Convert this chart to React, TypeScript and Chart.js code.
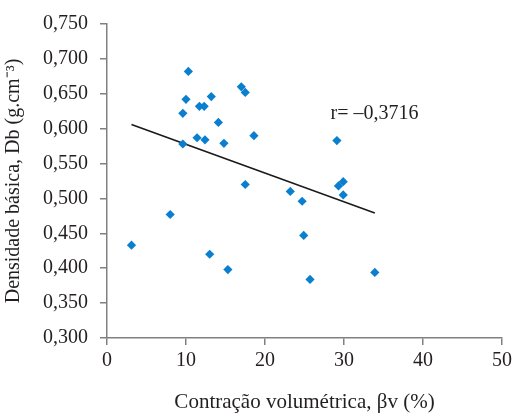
import React, { useEffect, useRef } from "react";
import { Chart, registerables } from "chart.js";

Chart.register(...registerables);

const contraction = [10.3, 17.0, 17.5, 13.2, 10.0, 11.7, 12.3, 9.6, 14.1, 18.6, 11.4, 12.4, 9.6, 14.8, 29.1, 29.9, 17.5, 29.3, 23.2, 29.9, 24.7, 8.0, 24.9, 3.1, 13.0, 15.3, 33.9, 25.7];
const density = [0.682, 0.660, 0.652, 0.646, 0.642, 0.632, 0.632, 0.622, 0.609, 0.590, 0.587, 0.584, 0.578, 0.579, 0.583, 0.524, 0.520, 0.518, 0.510, 0.505, 0.496, 0.477, 0.447, 0.433, 0.420, 0.398, 0.394, 0.384];
const trendX = [3.1, 33.9];
const trendY = [0.606, 0.479];
const rText = "r= \u20130,3716";
const rPos = [28.3, 0.622];
const xTitle = "Contração volumétrica, βv (%)";
const yTitle = "Densidade básica, Db (g.cm⁻³)";

const FONT = "'Liberation Serif', 'Times New Roman', serif";
const TEXT = "#231f20";
const AXIS = "#808080";

const annotationPlugin = {
  id: "rAnnotation",
  afterDatasetsDraw(chart: any) {
    const { ctx, scales } = chart;
    const x = scales.x.getPixelForValue(rPos[0]);
    const y = scales.y.getPixelForValue(rPos[1]);
    ctx.save();
    ctx.font = `20px ${FONT}`;
    ctx.fillStyle = TEXT;
    ctx.textAlign = "left";
    ctx.textBaseline = "middle";
    ctx.fillText(rText, x, y);
    ctx.restore();
  },
};

export default function App() {
  const ref = useRef<HTMLCanvasElement>(null);
  useEffect(() => {
    if (!ref.current) return;
    const chart = new Chart(ref.current, {
      type: "scatter",
      data: {
        datasets: [
          {
            label: "points",
            data: contraction.map((x, i) => ({ x, y: density[i] })),
            pointStyle: "rectRot",
            pointRadius: 4.6,
            backgroundColor: "#0a7fcf",
            borderColor: "#0a7fcf",
            borderWidth: 0,
          },
          {
            type: "line",
            label: "trend",
            data: trendX.map((x, i) => ({ x, y: trendY[i] })),
            borderColor: "#1a1a1a",
            borderWidth: 1.6,
            pointRadius: 0,
            fill: false,
          } as any,
        ],
      },
      options: {
        animation: false,
        responsive: false,
        devicePixelRatio: 1,
        layout: { padding: { top: 23, right: 0, left: 0, bottom: 0 } },
        plugins: { legend: { display: false }, tooltip: { enabled: false } },
        scales: {
          x: {
            type: "linear",
            min: 0,
            max: 50,
            ticks: { stepSize: 10, color: TEXT, font: { family: FONT, size: 20 }, padding: 4 },
            grid: { drawOnChartArea: false, drawTicks: true, tickLength: 7, color: AXIS, lineWidth: 1.5 },
            border: { display: true, color: AXIS, width: 1.5 },
            title: { display: true, text: xTitle, color: TEXT, font: { family: FONT, size: 21 }, padding: { top: 10, bottom: 0 } },
            afterFit: (s: any) => { s.height = 77; },
          },
          y: {
            min: 0.3,
            max: 0.75,
            ticks: {
              stepSize: 0.05,
              color: TEXT,
              font: { family: FONT, size: 20 },
              padding: 12,
              callback: (v: any) => Number(v).toFixed(3).replace(".", ","),
            },
            grid: { drawOnChartArea: false, drawTicks: true, tickLength: 7, color: AXIS, lineWidth: 1.5 },
            border: { display: true, color: AXIS, width: 1.5 },
            title: { display: true, text: yTitle, color: TEXT, font: { family: FONT, size: 20 }, padding: { top: 2, bottom: 2 } },
            afterFit: (s: any) => { s.width = 107; },
          },
        },
      },
      plugins: [annotationPlugin],
    });
    return () => chart.destroy();
  }, []);
  return (
    <div style={{ position: "fixed", left: 0, top: 0, width: 516, height: 415, background: "#fff" }}>
      <canvas ref={ref} width={516} height={415} style={{ width: 516, height: 415 }} />
    </div>
  );
}
